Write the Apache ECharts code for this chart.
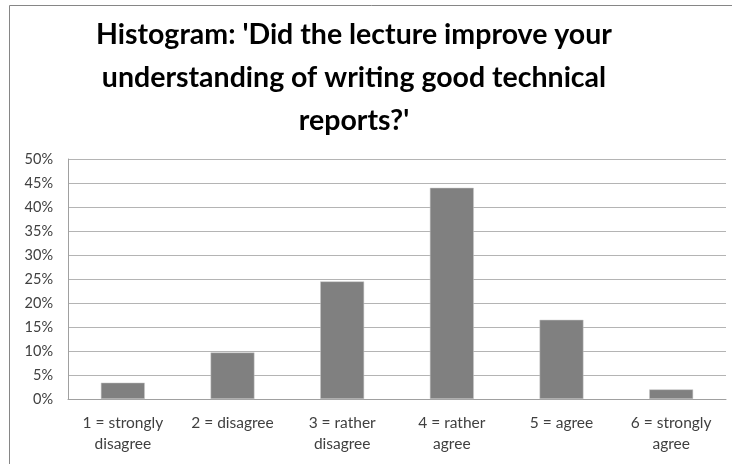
<!DOCTYPE html>
<html>
<head>
<meta charset="utf-8">
<script src="https://cdn.jsdelivr.net/npm/echarts@6/dist/echarts.min.js"></script>
<style>
  html, body { margin: 0; padding: 0; background: #fff; }
  #chart { width: 732px; height: 464px; }
</style>
</head>
<body>
<div id="chart"></div>
<script>
// answer categories (x axis)
var categories = [
  '1 = strongly\ndisagree',
  '2 = disagree',
  '3 = rather\ndisagree',
  '4 = rather\nagree',
  '5 = agree',
  '6 = strongly\nagree'
]
// share of answers, in percent
var shares = [3.4, 9.7, 24.5, 44.0, 16.5, 2.0]

var chartTitle = "Histogram: 'Did the lecture improve your\nunderstanding of writing good technical\nreports?'"

var myChart = echarts.init(document.getElementById('chart'))
var textColor = '#404040'
var font = 'Lato, "Open Sans", sans-serif'

var option = {
  backgroundColor: '#fff',
  animation: false,
  title: {
    text: chartTitle,
    left: 349,
    top: 8,
    textAlign: 'center',
    textStyle: {
      fontFamily: font,
      fontWeight: 'bold',
      fontSize: 28.5,
      lineHeight: 43,
      color: '#000'
    }
  },
  graphic: [
    {
      // chart frame (only top and left edges are inside the picture)
      type: 'rect',
      shape: { x: 9.5, y: 5.5, width: 800, height: 600 },
      style: { fill: 'none', stroke: '#868686', lineWidth: 1 },
      silent: true
    }
  ],
  grid: {
    left: 68,
    right: 6,
    top: 159,
    bottom: 65
  },
  xAxis: {
    type: 'category',
    data: categories,
    axisLine: { lineStyle: { color: '#a0a0a0' } },
    axisTick: { show: false },
    axisLabel: {
      interval: 0,
      margin: 13,
      fontFamily: font,
      fontSize: 15.5,
      lineHeight: 21,
      color: textColor
    }
  },
  yAxis: {
    type: 'value',
    min: 0,
    max: 50,
    interval: 5,
    axisLine: { show: true, lineStyle: { color: '#a0a0a0' } },
    axisTick: { show: false },
    splitLine: { lineStyle: { color: '#b4b4b4' } },
    axisLabel: {
      margin: 15,
      fontFamily: font,
      fontSize: 14.5,
      color: textColor,
      formatter: '{value}%'
    }
  },
  series: [
    {
      type: 'bar',
      data: shares,
      barWidth: '40%',
      itemStyle: { color: '#808080', borderColor: '#c8c8c8', borderWidth: 0.5 }
    }
  ]
}
myChart.setOption(option)
</script>
</body>
</html>
